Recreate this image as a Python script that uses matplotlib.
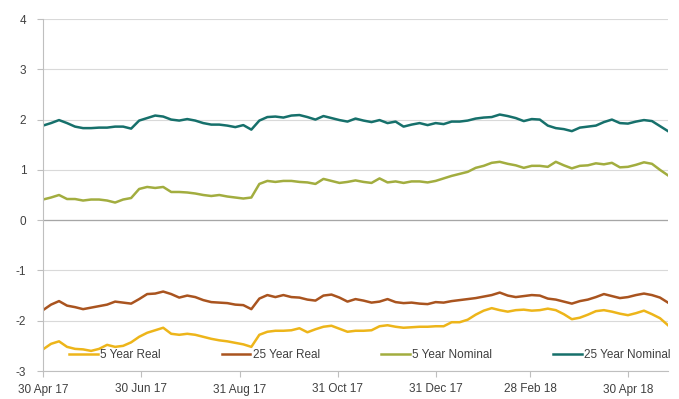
import matplotlib
matplotlib.use("Agg")
import matplotlib.pyplot as plt
import pandas as pd

plt.rcParams['font.family'] = ['Liberation Sans', 'DejaVu Sans']

dates = pd.date_range('2017-04-30', periods=79, freq='5D')

nominal_25y = [1.88, 1.93, 1.99, 1.93, 1.86, 1.83, 1.83, 1.84, 1.84, 1.86,
               1.86, 1.82, 1.98, 2.03, 2.08, 2.06, 2.00, 1.98, 2.01, 1.98,
               1.93, 1.90, 1.90, 1.88, 1.85, 1.89, 1.80, 1.98, 2.05, 2.06,
               2.04, 2.08, 2.09, 2.05, 2.00, 2.07, 2.03, 1.99, 1.96, 2.02,
               1.98, 1.95, 1.99, 1.93, 1.96, 1.86, 1.90, 1.93, 1.89, 1.93,
               1.91, 1.96, 1.96, 1.98, 2.02, 2.04, 2.05, 2.10, 2.07, 2.03,
               1.97, 2.01, 2.00, 1.88, 1.83, 1.81, 1.77, 1.84, 1.86, 1.88,
               1.95, 2.00, 1.93, 1.92, 1.96, 1.99, 1.97, 1.87, 1.77]

nominal_5y = [0.41, 0.45, 0.50, 0.42, 0.42, 0.39, 0.41, 0.41, 0.39, 0.35,
              0.41, 0.44, 0.62, 0.66, 0.64, 0.66, 0.56, 0.56, 0.55, 0.53,
              0.50, 0.48, 0.50, 0.47, 0.45, 0.43, 0.45, 0.72, 0.78, 0.76,
              0.78, 0.78, 0.76, 0.75, 0.72, 0.82, 0.78, 0.74, 0.76, 0.79,
              0.76, 0.74, 0.83, 0.75, 0.77, 0.74, 0.77, 0.77, 0.75, 0.78,
              0.83, 0.88, 0.92, 0.96, 1.04, 1.08, 1.14, 1.16, 1.12, 1.09,
              1.04, 1.08, 1.08, 1.06, 1.16, 1.09, 1.03, 1.08, 1.09, 1.13,
              1.11, 1.14, 1.05, 1.06, 1.10, 1.15, 1.12, 1.00, 0.89]

real_25y = [-1.79, -1.68, -1.61, -1.70, -1.73, -1.77, -1.74, -1.71, -1.68, -1.62,
            -1.64, -1.66, -1.57, -1.47, -1.46, -1.42, -1.47, -1.54, -1.50, -1.53,
            -1.59, -1.63, -1.64, -1.65, -1.68, -1.69, -1.77, -1.56, -1.49, -1.53,
            -1.49, -1.53, -1.54, -1.58, -1.60, -1.50, -1.48, -1.54, -1.62, -1.57,
            -1.60, -1.64, -1.62, -1.57, -1.63, -1.65, -1.64, -1.66, -1.67, -1.63,
            -1.64, -1.61, -1.59, -1.57, -1.55, -1.52, -1.49, -1.44, -1.50, -1.53,
            -1.51, -1.49, -1.50, -1.56, -1.58, -1.62, -1.66, -1.61, -1.58, -1.53,
            -1.47, -1.51, -1.55, -1.53, -1.49, -1.46, -1.49, -1.54, -1.64]

real_5y = [-2.57, -2.46, -2.41, -2.52, -2.56, -2.57, -2.60, -2.56, -2.48, -2.52,
           -2.50, -2.43, -2.32, -2.24, -2.19, -2.14, -2.26, -2.28, -2.26, -2.28,
           -2.32, -2.36, -2.39, -2.41, -2.44, -2.47, -2.52, -2.28, -2.22, -2.20,
           -2.20, -2.19, -2.15, -2.23, -2.17, -2.12, -2.10, -2.16, -2.22, -2.20,
           -2.20, -2.19, -2.11, -2.09, -2.12, -2.14, -2.13, -2.12, -2.12, -2.11,
           -2.11, -2.03, -2.03, -1.98, -1.88, -1.80, -1.75, -1.79, -1.82, -1.79,
           -1.78, -1.80, -1.79, -1.76, -1.79, -1.87, -1.97, -1.94, -1.88, -1.81,
           -1.79, -1.82, -1.86, -1.89, -1.85, -1.80, -1.87, -1.95, -2.09]

series_names = ['5 Year Real', '25 Year Real', '5 Year Nominal', '25 Year Nominal']
tick_dates = ['2017-04-30', '2017-06-30', '2017-08-31', '2017-10-31',
              '2017-12-31', '2018-02-28', '2018-04-30']
tick_labels = ['30 Apr 17', '30 Jun 17', '31 Aug 17', '31 Oct 17',
               '31 Dec 17', '28 Feb 18', '30 Apr 18']
y_ticks = [-3, -2, -1, 0, 1, 2, 3, 4]

colors = ['#EDB51A', '#A9541F', '#A2AD3F', '#16706B']

fig = plt.figure(figsize=(6.79, 3.99), dpi=100)
ax = fig.add_axes([43 / 679, 1 - 371 / 399, 625 / 679, (371 - 19) / 399])

for vals, name, c in zip([real_5y, real_25y, nominal_5y, nominal_25y], series_names, colors):
    ax.plot(dates, vals, color=c, lw=1.8, label=name, solid_joinstyle='round')

ax.set_ylim(-3, 4)
ax.set_yticks(y_ticks)
ax.set_yticklabels([str(v) for v in y_ticks])
ax.set_xlim(dates[0], dates[-1])
ax.set_xticks(pd.to_datetime(tick_dates))
ax.set_xticklabels(tick_labels)

ax.grid(axis='y', color='#D9D9D9', lw=0.8)
ax.set_axisbelow(True)
ax.axhline(0, color='#A6A6A6', lw=0.9, zorder=1)

for s in ['top', 'right']:
    ax.spines[s].set_visible(False)
ax.spines['left'].set_color('#BFBFBF')
ax.spines['bottom'].set_color('#BFBFBF')
ax.tick_params(axis='y', length=4, color='#BFBFBF', labelsize=8.5, labelcolor='#404040', pad=8)
ax.tick_params(axis='x', length=4, color='#BFBFBF', labelsize=8.5, labelcolor='#404040', pad=5)

leg = ax.legend(loc='center', bbox_to_anchor=(370 / 679, 1 - 355 / 399),
                bbox_transform=fig.transFigure, ncol=4, frameon=False,
                fontsize=8.5, handlelength=2.4, handletextpad=0.2,
                columnspacing=5.2, borderaxespad=0)
for t in leg.get_texts():
    t.set_color('#404040')

fig.savefig('out.png', dpi=100)
